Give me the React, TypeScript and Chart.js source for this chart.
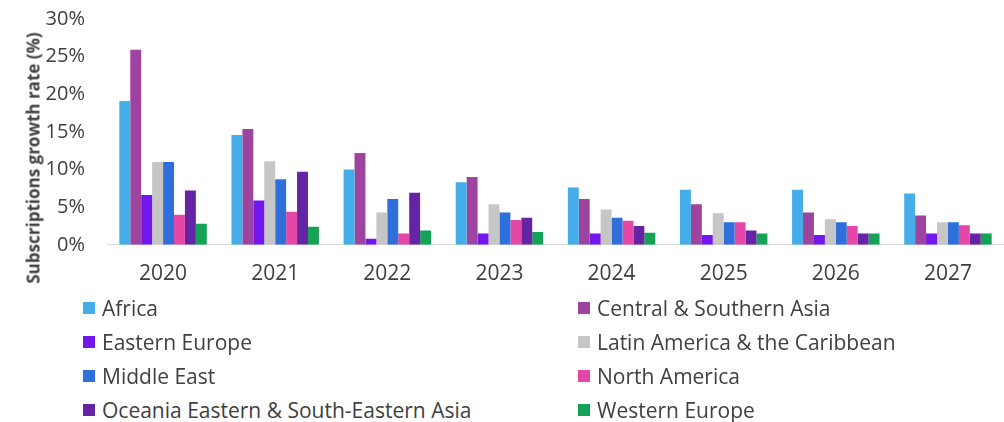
import React, { useEffect, useRef } from "react";
import { Chart, registerables } from "chart.js";

Chart.register(...registerables);

const years = ["2020", "2021", "2022", "2023", "2024", "2025", "2026", "2027"];
const africa = [19.1, 14.6, 10.0, 8.3, 7.6, 7.3, 7.3, 6.8];
const centralSouthernAsia = [25.9, 15.4, 12.2, 9.0, 6.1, 5.4, 4.3, 3.9];
const easternEurope = [6.6, 5.9, 0.8, 1.5, 1.5, 1.3, 1.3, 1.5];
const latinAmerica = [11.0, 11.1, 4.3, 5.4, 4.7, 4.2, 3.4, 3.0];
const middleEast = [11.0, 8.7, 6.1, 4.3, 3.6, 3.0, 3.0, 3.0];
const northAmerica = [4.0, 4.4, 1.5, 3.3, 3.2, 3.0, 2.5, 2.6];
const oceaniaAsia = [7.2, 9.7, 6.9, 3.6, 2.5, 1.9, 1.5, 1.5];
const westernEurope = [2.8, 2.4, 1.9, 1.7, 1.6, 1.5, 1.5, 1.5];
const yTicks = [0, 5, 10, 15, 20, 25, 30];

const seriesNames = [
  "Africa",
  "Central & Southern Asia",
  "Eastern Europe",
  "Latin America & the Caribbean",
  "Middle East",
  "North America",
  "Oceania Eastern & South-Eastern Asia",
  "Western Europe",
];
const seriesValues = [
  africa,
  centralSouthernAsia,
  easternEurope,
  latinAmerica,
  middleEast,
  northAmerica,
  oceaniaAsia,
  westernEurope,
];
const seriesColors = [
  "#45aee8",
  "#9e44a0",
  "#7318ec",
  "#c6c6c6",
  "#2f6fdc",
  "#e447a6",
  "#6424a4",
  "#14a356",
];

const FONT = "'Open Sans', sans-serif";
const TEXT = "#404040";

export default function App() {
  const ref = useRef<HTMLCanvasElement | null>(null);
  useEffect(() => {
    if (!ref.current) return;
    const chart = new Chart(ref.current, {
      type: "bar",
      data: {
        labels: years,
        datasets: seriesNames.map((n, i) => ({
          label: n,
          data: seriesValues[i],
          backgroundColor: seriesColors[i],
          borderWidth: 0,
          categoryPercentage: 0.78,
          barPercentage: 1.0,
        })),
      },
      options: {
        animation: false,
        responsive: false,
        maintainAspectRatio: false,
        layout: { padding: { top: 8, right: 0, left: 0, bottom: 0 } },
        plugins: { legend: { display: false }, tooltip: { enabled: false } },
        scales: {
          x: {
            grid: { display: false, drawTicks: false },
            border: { display: true, color: "#d9d9d9", width: 1 },
            ticks: { color: TEXT, font: { family: FONT, size: 21 }, padding: 17, maxRotation: 0 },
          },
          y: {
            min: 0,
            max: 30,
            afterBuildTicks: (s: any) => {
              s.ticks = yTicks.map((v) => ({ value: v }));
            },
            afterFit: (s: any) => {
              s.width = 107;
            },
            grid: { display: false, drawTicks: false },
            border: { display: false },
            ticks: {
              color: TEXT,
              font: { family: FONT, size: 20 },
              padding: 22,
              callback: (v: any) => v + "%",
            },
          },
        },
      },
    });
    return () => chart.destroy();
  }, []);

  return (
    <div style={{ position: "absolute", left: 0, top: 0, width: 1004, height: 422, background: "#fff", fontFamily: FONT, color: TEXT, overflow: "hidden" }}>
      <canvas ref={ref} width={1004} height={319} style={{ position: "absolute", left: 0, top: -15 }} />
      <div
        style={{
          position: "absolute",
          left: 33,
          top: 158,
          transform: "translate(-50%, -50%) rotate(-90deg)",
          whiteSpace: "nowrap",
          fontWeight: 700,
          fontSize: 17,
        }}
      >
        Subscriptions growth rate (%)
      </div>
      {seriesNames.map((n, i) => {
        const col = i % 2;
        const row = Math.floor(i / 2);
        const left = col === 0 ? 83 : 578;
        const cy = 308 + row * 34;
        return (
          <div key={n} style={{ position: "absolute", left, top: cy - 14, height: 28, display: "flex", alignItems: "center", whiteSpace: "nowrap", fontSize: 21 }}>
            <span style={{ display: "inline-block", width: 12, height: 12, background: seriesColors[i], marginRight: 7 }} />
            <span>{n}</span>
          </div>
        );
      })}
    </div>
  );
}
